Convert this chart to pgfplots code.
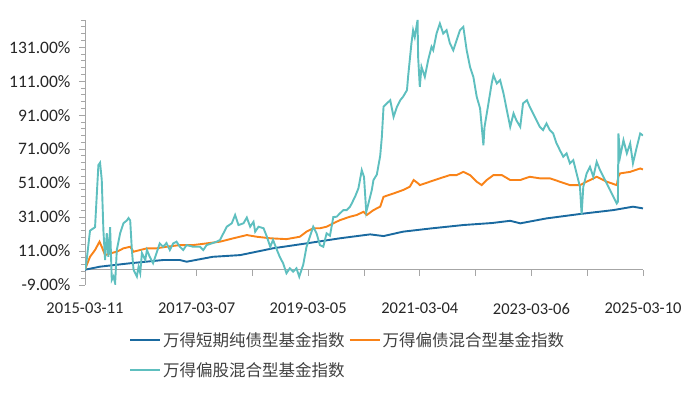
\documentclass[border=0pt]{standalone}
\usepackage{pgfplots}
\pgfplotsset{compat=1.18}
\usepackage{fontspec}
\setmainfont{Carlito}
\newfontfamily\cjk{Noto Sans CJK SC}
\definecolor{cblue}{HTML}{1A6AA0}
\definecolor{corange}{HTML}{F98318}
\definecolor{cteal}{HTML}{5EBFBF}
\definecolor{axgray}{HTML}{A6A6A6}
\definecolor{txt}{HTML}{262626}
\definecolor{legtxt}{HTML}{404040}
\begin{document}
\begin{tikzpicture}
\useasboundingbox (0pt,0pt) rectangle (699pt,393pt);
\begin{axis}[
  at={(85pt,108pt)}, anchor=south west,
  scale only axis, width=558pt, height=265pt,
  xmin=0, xmax=10, ymin=-9, ymax=147,
  axis x line=middle, axis y line=left,
  hide obscured x ticks=false, hide obscured y ticks=false,
  axis line style={-, axgray, line width=0.9pt},
  tick align=outside,
  every tick/.style={axgray, line width=0.8pt},
  major tick length=6pt, minor tick length=4pt,
  xtick={0,1,...,10},
  xticklabels={2015-03-11,,2017-03-07,,2019-03-05,,2021-03-04,,2023-03-06,,2025-03-10},
  xticklabel style={yshift=-24pt, font=\fontsize{16.5}{19}\selectfont, text=txt},
  ytick={-9,11,31,51,71,91,111,131},
  minor ytick={-5,-1,3,7,15,19,23,27,35,39,43,47,55,59,63,67,75,79,83,87,95,99,103,107,115,119,123,127,135,139,143,147},
  ytick pos=left,
  yticklabel={\pgfmathprintnumber[fixed,fixed zerofill,precision=2]{\tick}\%},
  yticklabel style={font=\fontsize{17.5}{19}\selectfont, text=txt, xshift=-5pt},
  /pgf/number format/assume math mode=true,
  legend style={at={(0.0735,-0.162)}, anchor=north west, draw=none, fill=none,
    font=\cjk\fontsize{16.5}{19}\selectfont, text=legtxt,
    legend columns=2, row sep=11pt,
    /tikz/every even column/.append style={column sep=2pt}},
  legend cell align=left,
  legend image code/.code={\draw[#1, line width=2pt] (0pt,0pt) -- (30pt,0pt);},
]
\addplot[cblue, line width=1.9pt] coordinates {
(0,0) (0.27,1.8) (0.81,3.8) (1.40,5.7) (1.70,5.7) (1.82,4.7) (2.29,7.6) (2.78,8.6)
(3.37,12.6) (3.97,15.5) (4.57,18.5) (5.11,20.8) (5.35,19.8) (5.70,22.4) (6.20,24.3)
(6.78,26.3) (7.30,27.5) (7.62,28.8) (7.80,27.3) (8.27,30.2) (8.87,32.8) (9.47,35.1)
(9.82,37.1) (10.0,36.1)
};
\addlegendentry{万得短期纯债型基金指数}
\addplot[corange, line width=1.9pt] coordinates {
(0,0) (0.02,1.8) (0.09,7.6) (0.18,11.6) (0.26,16.5) (0.30,13.5) (0.36,8.6) (0.45,9.6)
(0.57,10.6) (0.69,12.6) (0.81,13.5) (0.87,10.6) (0.99,11.6) (1.11,12.6) (1.28,12.6)
(1.46,13.5) (1.70,14.5) (1.94,14.5) (2.18,15.5) (2.42,16.5) (2.66,18.5) (2.90,20.4)
(3.08,19.4) (3.32,18.5) (3.61,18.0) (3.85,19.4) (3.97,22.4) (4.09,24.4) (4.21,24.4)
(4.33,25.3) (4.45,27.3) (4.57,29.2) (4.75,31.2) (4.87,32.2) (4.99,34.1) (5.05,32.2)
(5.17,35.1) (5.29,37.1) (5.35,42.9) (5.53,44.9) (5.70,46.9) (5.82,48.8) (5.89,52.8)
(5.97,50.8) (6.00,49.8) (6.18,51.8) (6.36,53.8) (6.54,55.7) (6.66,55.7) (6.78,57.6)
(6.90,55.7) (7.02,51.8) (7.11,49.8) (7.20,52.8) (7.32,55.7) (7.47,55.7) (7.62,52.8)
(7.80,52.8) (7.97,54.7) (8.15,53.8) (8.33,53.8) (8.51,51.8) (8.69,49.8) (8.87,49.8)
(8.99,51.8) (9.17,54.7) (9.35,51.8) (9.53,49.8) (9.56,55.0) (9.59,56.7) (9.77,57.6)
(9.95,59.6) (10.0,59.0)
};
\addlegendentry{万得偏债混合型基金指数}
\addplot[cteal, line width=1.9pt] coordinates {
(0,0) (0.02,2.8) (0.09,23) (0.18,25) (0.24,61.6) (0.27,63) (0.30,53) (0.33,23)
(0.36,5.7) (0.39,21.5) (0.42,7.6) (0.45,25) (0.48,-6) (0.51,-4) (0.54,-8) (0.57,11.6)
(0.63,21.5) (0.69,27.4) (0.75,29) (0.78,30.4) (0.81,29) (0.84,11.6) (0.87,0) (0.93,-4)
(0.96,1.8) (0.99,-2) (1.02,9.8) (1.08,5.7) (1.11,11.6) (1.16,7.6) (1.22,3.8) (1.28,9.6)
(1.34,15.5) (1.40,13.5) (1.46,15.7) (1.52,11.6) (1.58,15.5) (1.64,16.5) (1.70,13.5)
(1.76,11.6) (1.82,14.5) (1.94,13.5) (2.06,13.5) (2.12,11.6) (2.18,14.5) (2.27,15.5)
(2.36,16.5) (2.42,17.5) (2.48,21.4) (2.54,25.3) (2.63,27.3) (2.69,32.2) (2.75,26.3)
(2.84,27.3) (2.90,30.7) (2.96,25.3) (3.02,28.2) (3.05,22.4) (3.11,25.3) (3.20,24.4)
(3.26,19.4) (3.32,13.5) (3.37,17.5) (3.44,11.6) (3.49,7.6) (3.55,3.8) (3.61,-2.1)
(3.67,0.8) (3.73,-1.2) (3.79,0.8) (3.84,-4.1) (3.91,2.8) (3.97,13.5) (4.03,19.4)
(4.09,25.3) (4.15,21.4) (4.21,14.5) (4.27,13.5) (4.33,21.4) (4.39,20) (4.45,31)
(4.51,31.2) (4.57,33.2) (4.63,35.1) (4.69,35.1) (4.75,37.1) (4.78,39) (4.84,43)
(4.90,47.9) (4.96,58.6) (5.00,54.7) (5.04,34) (5.08,39) (5.11,43) (5.14,46.9)
(5.17,52.8) (5.23,56) (5.29,67) (5.32,78.2) (5.35,95.9) (5.41,97.9) (5.47,99.8)
(5.53,90) (5.59,95.9) (5.65,99.8) (5.70,101.8) (5.77,105.7) (5.79,113.5) (5.85,133.2)
(5.88,141) (5.91,137) (5.96,147) (5.97,125.3) (6.00,107.6) (6.03,119.4) (6.09,113.5)
(6.15,123.4) (6.21,131.2) (6.24,129.2) (6.30,139) (6.36,144.9) (6.42,139) (6.48,141)
(6.54,133.2) (6.60,129.2) (6.66,135.1) (6.72,141) (6.78,143) (6.84,129.2) (6.90,119.4)
(6.96,113.5) (7.02,101.8) (7.08,95) (7.14,73.3) (7.16,84.1) (7.23,97.9) (7.29,110)
(7.32,114.5) (7.38,109.6) (7.44,111.6) (7.50,103.8) (7.56,93.9) (7.62,84.1) (7.68,92)
(7.73,88) (7.80,84.1) (7.85,97.9) (7.92,99.8) (7.97,95.9) (8.03,92) (8.09,88)
(8.15,84.1) (8.21,82.2) (8.27,86.1) (8.33,82.2) (8.39,80.2) (8.45,74.4) (8.51,70.4)
(8.57,66.5) (8.63,68.5) (8.69,62.6) (8.75,64.5) (8.81,56.7) (8.87,48.8) (8.90,32.5)
(8.93,48.8) (8.99,56.7) (9.05,60.6) (9.11,54.7) (9.17,63.5) (9.23,58.6) (9.29,54.7)
(9.35,50.8) (9.41,46.9) (9.47,42.9) (9.53,39) (9.55,40) (9.56,80.2) (9.59,66.5)
(9.65,76.3) (9.71,68.5) (9.77,74.4) (9.82,62.6) (9.89,72.4) (9.95,80.2) (10.0,79)
};
\addlegendentry{万得偏股混合型基金指数}
\end{axis}
\end{tikzpicture}
\end{document}
